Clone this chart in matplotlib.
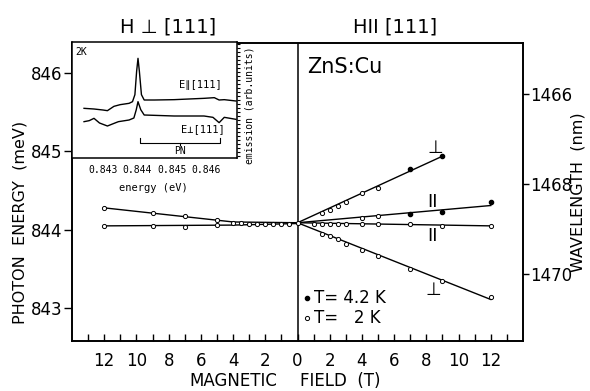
import numpy as np
import matplotlib
matplotlib.use("Agg")
import matplotlib.pyplot as plt
from matplotlib.ticker import FuncFormatter

plt.rcParams['font.family'] = ['DejaVu Sans']

# ---- data ----
# H || [111] (right half), field in T, energy in meV
perp_up_B_2K = [1.5, 2, 2.5, 3, 4, 5]
perp_up_E_2K = [844.22, 844.25, 844.31, 844.36, 844.47, 844.53]
perp_up_B_4K = [7, 9]
perp_up_E_4K = [844.77, 844.94]
perp_up_line_B = [0, 9]
perp_up_line_E = [844.09, 844.94]

par_up_B_2K = [4, 5]
par_up_E_2K = [844.15, 844.17]
par_up_B_4K = [7, 9, 12]
par_up_E_4K = [844.20, 844.23, 844.35]
par_up_line_B = [0, 12]
par_up_line_E = [844.09, 844.31]

par_low_B = [1, 1.5, 2, 2.5, 3, 4, 5, 7, 9, 12]
par_low_E = [844.08, 844.07, 844.07, 844.08, 844.07, 844.07, 844.07, 844.07, 844.05, 844.05]
par_low_line_B = [0, 12]
par_low_line_E = [844.09, 844.05]

perp_low_B = [1.5, 2, 2.5, 3, 4, 5, 7, 9, 12]
perp_low_E = [843.95, 843.92, 843.88, 843.82, 843.74, 843.67, 843.50, 843.34, 843.14]
perp_low_line_B = [0, 12]
perp_low_line_E = [844.09, 843.11]

# H perp [111] (left half), field in T
left_up_B = [12, 9, 7, 5, 4]
left_up_E = [844.28, 844.21, 844.17, 844.12, 844.09]
left_low_B = [12, 9, 7, 5]
left_low_E = [844.05, 844.05, 844.04, 844.06]
left_mid_B = [3.5, 3, 2.5, 2, 1.5, 1, 0.5, 0]
left_mid_E = [844.09, 844.08, 844.08, 844.08, 844.08, 844.08, 844.08, 844.09]
left_up_line_B = [12, 4, 0]
left_up_line_E = [844.28, 844.10, 844.09]
left_low_line_B = [12, 4, 0]
left_low_line_E = [844.05, 844.06, 844.08]

# inset spectra (energy eV, emission arb. units)
spec_par_x = [0.84245, 0.84274, 0.84300, 0.84313, 0.84332, 0.84350, 0.84376, 0.84386,
              0.84393, 0.84398, 0.84402, 0.84406, 0.84412, 0.84420, 0.84450, 0.84507,
              0.84550, 0.84594, 0.84624, 0.84638, 0.84653, 0.84687]
spec_par_y = [1.49, 1.47, 1.44, 1.42, 1.55, 1.60, 1.64, 1.69,
              1.90, 2.60, 2.99, 2.60, 1.90, 1.74, 1.74, 1.75,
              1.77, 1.79, 1.81, 1.74, 1.75, 1.71]
spec_perp_x = [0.84245, 0.84260, 0.84274, 0.84290, 0.84313, 0.84335, 0.84345, 0.84376,
               0.84390, 0.84397, 0.84402, 0.84410, 0.84420, 0.84507, 0.84594, 0.84620,
               0.84638, 0.84653, 0.84687]
spec_perp_y = [1.09, 1.12, 1.19, 1.05, 0.96, 1.05, 1.09, 1.14,
               1.20, 1.45, 1.69, 1.45, 1.29, 1.26, 1.26, 1.22,
               1.06, 1.22, 1.16]
pn_start, pn_end = 0.84409, 0.84640

HC = 1239841.98  # meV nm

W, H = 590, 391
def fx(x):
    return x / W
def fy(y):
    return 1 - y / H

fig = plt.figure(figsize=(5.9, 3.91), dpi=100)
ax = fig.add_axes([fx(72), fy(341), fx(523) - fx(72), fy(43) - fy(341)])

lw = 1.0
ms = 3.0
open_kw = dict(marker='o', ms=ms, mfc='white', mec='black', mew=0.7, ls='none', zorder=3)
fill_kw = dict(marker='o', ms=ms, mfc='black', mec='black', ls='none', zorder=3)

# right half
for bx, ey in [(perp_up_line_B, perp_up_line_E), (par_up_line_B, par_up_line_E),
               (par_low_line_B, par_low_line_E), (perp_low_line_B, perp_low_line_E)]:
    ax.plot(bx, ey, color='black', lw=lw)
ax.plot(perp_up_B_2K, perp_up_E_2K, **open_kw)
ax.plot(perp_up_B_4K, perp_up_E_4K, **fill_kw)
ax.plot(par_up_B_2K, par_up_E_2K, **open_kw)
ax.plot(par_up_B_4K, par_up_E_4K, **fill_kw)
ax.plot(par_low_B, par_low_E, **open_kw)
ax.plot(perp_low_B, perp_low_E, **open_kw)

# left half (plotted at negative x)
neg = lambda v: [-b for b in v]
ax.plot(neg(left_up_line_B), left_up_line_E, color='black', lw=lw)
ax.plot(neg(left_low_line_B), left_low_line_E, color='black', lw=lw)
ax.plot(neg(left_up_B), left_up_E, **open_kw)
ax.plot(neg(left_low_B), left_low_E, **open_kw)
ax.plot(neg(left_mid_B), left_mid_E, **open_kw)

ax.axvline(0, color='black', lw=1.1)

ax.set_xlim(-14, 14)
ax.set_ylim(842.58, 846.385)

ax.set_xticks(np.arange(-13, 14, 1))
ax.xaxis.set_major_formatter(FuncFormatter(lambda v, p: str(abs(int(round(v)))) if int(round(v)) % 2 == 0 else ''))
ax.tick_params(axis='x', direction='in', length=5, width=1, labelsize=12, pad=8)
ax.set_yticks([843, 844, 845, 846])
ax.tick_params(axis='y', direction='out', length=6, width=1, labelsize=12, pad=1)
for s in ax.spines.values():
    s.set_linewidth(1.2)

# wavelength axis
ax2 = ax.twinx()
ax2.set_ylim(HC / 842.58, HC / 846.385)
ax2.set_yticks([1466, 1468, 1470])
ax2.tick_params(axis='y', direction='out', length=4, width=1, labelsize=12, pad=1)
for s in ax2.spines.values():
    s.set_linewidth(1.2)

# annotations in main plot
ax.text(0.62, 846.08, 'ZnS:Cu', fontsize=15, ha='left', va='center')
ax.text(8.57, 845.05, '⊥', fontsize=13, ha='center', va='center')
ax.text(8.37, 844.36, 'II', fontsize=13, ha='center', va='center')
ax.text(8.37, 843.92, 'II', fontsize=13, ha='center', va='center')
ax.text(8.45, 843.23, '⊥', fontsize=13, ha='center', va='center')
ax.plot([0.6], [843.13], **fill_kw)
ax.plot([0.6], [842.87], **open_kw)
ax.text(1.05, 843.13, 'T= 4.2 K', fontsize=12, ha='left', va='center')
ax.text(1.05, 842.87, 'T=   2 K', fontsize=12, ha='left', va='center')

# figure labels
fig.text(fx(168), fy(27), 'H ⊥ [111]', fontsize=14, ha='center', va='center')
fig.text(fx(395), fy(27), 'HII [111]', fontsize=14, ha='center', va='center')
fig.text(fx(20), fy(222), 'PHOTON  ENERGY  (meV)', fontsize=11.5, rotation=90, ha='center', va='center')
fig.text(fx(578), fy(192), 'WAVELENGTH  (nm)', fontsize=11.5, rotation=90, ha='center', va='center')
fig.text(fx(233), fy(381), 'MAGNETIC', fontsize=12, ha='center', va='center')
fig.text(fx(300), fy(381), 'FIELD  (T)', fontsize=12, ha='left', va='center')

# inset
mono = ['DejaVu Sans Mono', 'DejaVu Sans']
axi = fig.add_axes([fx(72), fy(158), fx(237) - fx(72), fy(42) - fy(158)])
axi.set_facecolor('white')
axi.plot(spec_par_x, spec_par_y, color='black', lw=1.0)
axi.plot(spec_perp_x, spec_perp_y, color='black', lw=1.0)
axi.set_xlim(0.8421, 0.8469)
axi.set_ylim(0, 3.48)
axi.set_xticks([0.843, 0.844, 0.845, 0.846])
axi.set_xticklabels(['0.843', '0.844', '0.845', '0.846'], family=mono)
axi.tick_params(axis='x', length=0, labelsize=7, pad=5)
axi.yaxis.tick_right()
axi.set_yticks(np.arange(0.05, 3.48, 0.12))
axi.set_yticklabels([])
axi.tick_params(axis='y', direction='out', length=2, width=0.8)
for s in axi.spines.values():
    s.set_linewidth(1.1)

axi.plot([pn_start, pn_start, pn_end, pn_end], [0.60, 0.46, 0.46, 0.60], color='black', lw=0.8)
axi.plot([(pn_start + pn_end) / 2] * 2, [0.46, 0.38], color='black', lw=0.8)
axi.text((pn_start + pn_end) / 2, 0.2, 'PN', fontsize=7, family=mono, ha='center', va='center')
axi.text(0.84645, 2.19, 'E∥[111]', fontsize=7.5, family=mono, ha='right', va='center')
axi.text(0.84655, 0.86, 'E⊥[111]', fontsize=7.5, family=mono, ha='right', va='center')
axi.text(0.02, 0.96, '2K', fontsize=7, family=mono, transform=axi.transAxes, ha='left', va='top')

fig.text(fx(153), fy(188), 'energy (eV)', fontsize=7.5, family=mono, ha='center', va='center')
fig.text(fx(250), fy(105), 'emission (arb.units)', fontsize=7, family=mono, rotation=90,
         ha='center', va='center')

fig.savefig('out.png', dpi=100)
